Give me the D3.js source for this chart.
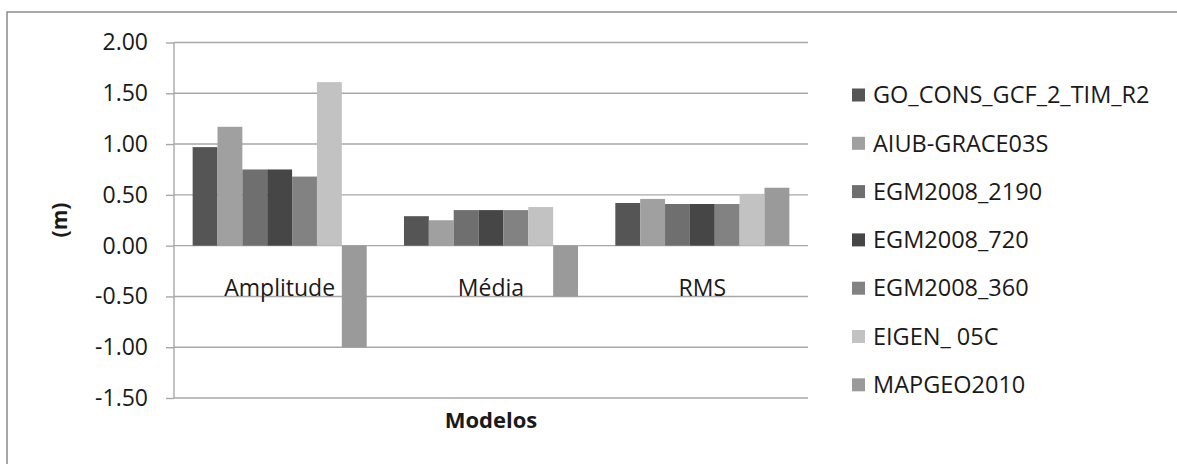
<!DOCTYPE html>
<html>
<head>
<meta charset="utf-8">
<script src="https://cdn.jsdelivr.net/npm/d3@7"></script>
<style>
  html, body { margin: 0; padding: 0; background: #fff; }
  svg { display: block; }
  text { font-family: "Open Sans", "DejaVu Sans", sans-serif; fill: #1a1a1a; }
</style>
</head>
<body>
<svg id="chart" width="1177" height="464"></svg>
<script>
// Statistics per geoid model (metres)
const categories = ["Amplitude", "Média", "RMS"];
const seriesNames = ["GO_CONS_GCF_2_TIM_R2", "AIUB-GRACE03S", "EGM2008_2190",
                     "EGM2008_720", "EGM2008_360", "EIGEN_ 05C", "MAPGEO2010"];
const GO_CONS_GCF_2_TIM_R2 = [0.97, 0.29, 0.42];
const AIUB_GRACE03S        = [1.17, 0.25, 0.46];
const EGM2008_2190         = [0.75, 0.35, 0.41];
const EGM2008_720          = [0.75, 0.35, 0.41];
const EGM2008_360          = [0.68, 0.35, 0.41];
const EIGEN_05C            = [1.61, 0.38, 0.51];
const MAPGEO2010           = [-1.00, -0.50, 0.57];
const yTicks = [-1.5, -1.0, -0.5, 0.0, 0.5, 1.0, 1.5, 2.0];
const seriesColors = ["#555555", "#a0a0a0", "#6f6f6f", "#464646", "#828282", "#c2c2c2", "#9a9a9a"];

const seriesValues = [GO_CONS_GCF_2_TIM_R2, AIUB_GRACE03S, EGM2008_2190,
                      EGM2008_720, EGM2008_360, EIGEN_05C, MAPGEO2010];

const svg = d3.select("#chart");

// outer chart frame
svg.append("rect")
  .attr("x", 7).attr("y", 12).attr("width", 1200).attr("height", 500)
  .attr("fill", "#fff").attr("stroke", "#8c8c8c").attr("stroke-width", 1.5);

const plot = { left: 174, right: 808, top: 42.5, bottom: 398 };

const y = d3.scaleLinear().domain([-1.5, 2]).range([plot.bottom, plot.top]);
const x0 = d3.scaleBand().domain(categories).range([plot.left, plot.right]);
const x1 = d3.scaleBand().domain(seriesNames).range([0, x0.bandwidth()])
  .paddingInner(0).paddingOuter(0.75);

const gridColor = "#a8a8a8";

// horizontal gridlines
svg.append("g").selectAll("line").data(yTicks).join("line")
  .attr("x1", plot.left).attr("x2", plot.right)
  .attr("y1", d => y(d)).attr("y2", d => y(d))
  .attr("stroke", gridColor).attr("stroke-width", 1.4);

// y axis, labels with a plain hyphen for negatives
const fmt = d3.format(".2f");
const yAxis = d3.axisLeft(y).tickValues(yTicks)
  .tickFormat(d => fmt(d).replace("\u2212", "-"))
  .tickSize(8).tickPadding(18);
const gy = svg.append("g").attr("transform", `translate(${plot.left},0)`).call(yAxis);
gy.select(".domain").attr("stroke", gridColor).attr("stroke-width", 1.4)
  .attr("d", `M0,${plot.bottom}V${plot.top}`);
gy.selectAll(".tick line").attr("stroke", gridColor).attr("stroke-width", 1.4);
gy.selectAll(".tick text").style("font-size", "23px").attr("fill", "#1a1a1a")
  .style("font-family", "\"Open Sans\", sans-serif");

// bars
const groups = svg.append("g").selectAll("g").data(categories).join("g")
  .attr("transform", d => `translate(${x0(d)},0)`);
groups.selectAll("rect")
  .data((c, ci) => seriesNames.map((s, si) => ({ s, si, v: seriesValues[si][ci] })))
  .join("rect")
  .attr("x", d => x1(d.s))
  .attr("width", x1.bandwidth())
  .attr("y", d => y(Math.max(0, d.v)))
  .attr("height", d => Math.abs(y(d.v) - y(0)))
  .attr("fill", d => seriesColors[d.si]);

// category labels
svg.append("g").selectAll("text").data(categories).join("text")
  .attr("x", d => x0(d) + x0.bandwidth() / 2)
  .attr("y", 296)
  .attr("text-anchor", "middle")
  .style("font-size", "23px")
  .text(d => d);

// axis titles
svg.append("text")
  .attr("transform", `translate(67,220) rotate(-90)`)
  .attr("text-anchor", "middle")
  .style("font-size", "21px").style("font-weight", "bold")
  .text("(m)");
svg.append("text")
  .attr("x", 491).attr("y", 428)
  .attr("text-anchor", "middle")
  .style("font-size", "22px").style("font-weight", "bold")
  .text("Modelos");

// legend
const legend = svg.append("g").selectAll("g").data(seriesNames).join("g")
  .attr("transform", (d, i) => `translate(852,${95 + i * 48.3})`);
legend.append("rect")
  .attr("x", 0).attr("y", -6.5).attr("width", 13).attr("height", 13)
  .attr("fill", (d, i) => seriesColors[i]);
legend.append("text")
  .attr("x", 21).attr("y", 0).attr("dy", "0.35em")
  .style("font-size", "23.5px")
  .text(d => d);
</script>
</body>
</html>
